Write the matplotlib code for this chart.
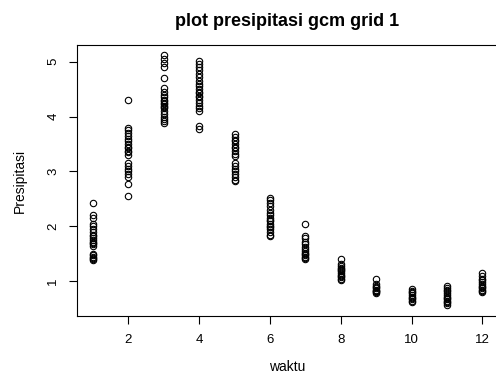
import matplotlib
matplotlib.use("Agg")
import matplotlib.pyplot as plt

plt.rcParams["font.family"] = ["Liberation Sans", "DejaVu Sans"]

# curah hujan per bulan
presip = {
    1: [2.43, 2.2, 2.15, 2.05, 2.0, 1.95, 1.9, 1.85, 1.82, 1.78, 1.75, 1.72,
        1.7, 1.68, 1.65, 1.5, 1.48, 1.45, 1.42, 1.4, 1.38],
    2: [4.3, 3.8, 3.75, 3.7, 3.65, 3.6, 3.55, 3.5, 3.45, 3.42, 3.38, 3.35,
        3.3, 3.15, 3.1, 3.05, 3.0, 2.95, 2.9, 2.78, 2.56],
    3: [5.12, 5.05, 4.98, 4.9, 4.7, 4.52, 4.45, 4.4, 4.35, 4.3, 4.28, 4.25,
        4.22, 4.2, 4.18, 4.15, 4.1, 4.05, 4.0, 3.95, 3.92, 3.88],
    4: [5.02, 4.96, 4.9, 4.85, 4.78, 4.72, 4.65, 4.6, 4.55, 4.5, 4.45, 4.42,
        4.38, 4.35, 4.3, 4.25, 4.2, 4.15, 4.1, 3.82, 3.78],
    5: [3.68, 3.62, 3.58, 3.55, 3.5, 3.45, 3.42, 3.38, 3.32, 3.28, 3.15, 3.1,
        3.05, 3.0, 2.95, 2.9, 2.85, 2.82],
    6: [2.52, 2.48, 2.42, 2.38, 2.3, 2.25, 2.2, 2.15, 2.12, 2.1, 2.05, 2.0,
        1.98, 1.95, 1.9, 1.85, 1.82],
    7: [2.05, 1.82, 1.78, 1.72, 1.68, 1.62, 1.58, 1.55, 1.52, 1.5, 1.48,
        1.45, 1.42, 1.4],
    8: [1.4, 1.32, 1.28, 1.25, 1.22, 1.2, 1.18, 1.15, 1.12, 1.1, 1.08, 1.05, 1.02],
    9: [1.05, 0.95, 0.92, 0.9, 0.88, 0.85, 0.83, 0.82, 0.8, 0.78],
    10: [0.86, 0.82, 0.8, 0.78, 0.75, 0.72, 0.7, 0.68, 0.65, 0.63],
    11: [0.92, 0.88, 0.85, 0.82, 0.78, 0.75, 0.72, 0.7, 0.68, 0.65, 0.62,
         0.6, 0.56],
    12: [1.15, 1.1, 1.05, 1.02, 0.98, 0.95, 0.92, 0.9, 0.87, 0.85, 0.82, 0.8],
}

waktu = []
nilai = []
for bln, vals in presip.items():
    waktu += [bln] * len(vals)
    nilai += vals

fig = plt.figure(figsize=(4.96, 3.73), dpi=100)
ax = fig.add_axes([0.156, 0.153, 0.848, 0.726])

ax.plot(waktu, nilai, "o", mfc="none", mec="black", mew=0.8, ms=4.6)

ax.set_xlim(0.56, 12.44)
ax.set_ylim(0.37, 5.3)
ax.set_xticks([2, 4, 6, 8, 10, 12])
ax.set_yticks([1, 2, 3, 4, 5])
ax.tick_params(axis="both", direction="out", length=6, width=0.8, labelsize=9.5)
ax.tick_params(axis="x", pad=7)
ax.tick_params(axis="y", pad=7)
for lbl in ax.get_yticklabels():
    lbl.set_rotation(90)
    lbl.set_va("center")
for s in ax.spines.values():
    s.set_linewidth(0.8)

ax.set_xlabel("waktu", fontsize=10, labelpad=10)
ax.set_ylabel("Presipitasi", fontsize=10, labelpad=15)
fig.suptitle("plot presipitasi gcm grid 1", fontsize=13, fontweight="bold",
             x=0.578, y=0.965)

plt.savefig("out.png", dpi=100)
